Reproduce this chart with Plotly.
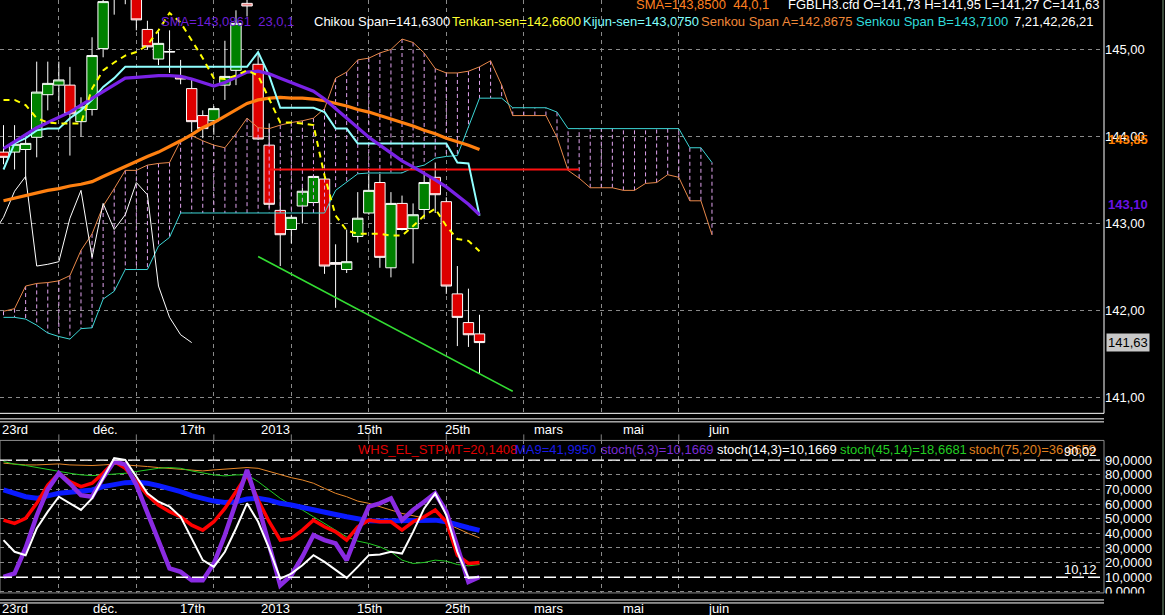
import plotly.graph_objects as go

# ---------------- data ----------------
bar_idx = list(range(44))          # daily bars shown
cloud_idx = list(range(65))        # cloud is projected 21 bars ahead

open_ = [143.82, 143.82, 143.85, 143.99, 144.48, 144.59, 144.59, 144.17, 144.31, 145.01,
         145.60, 145.85, 145.70, 145.23, 144.89, 144.97, 144.69, 144.55, 144.24, 144.18,
         144.59, 144.76, 145.53, 144.83, 143.90, 143.15, 142.93, 143.20, 143.24, 143.51,
         142.55, 142.47, 142.85, 143.12, 143.47, 142.49, 143.23, 142.94, 143.16, 143.53,
         143.25, 142.19, 141.86, 141.73]
high = [144.13, 144.13, 143.98, 144.86, 144.86, 144.86, 144.80, 144.45, 145.14, 145.70,
        145.95, 146.00, 145.85, 145.33, 145.20, 145.22, 144.88, 144.66, 144.30, 144.35,
        145.10, 145.45, 145.70, 144.97, 144.15, 143.41, 143.10, 143.41, 143.56, 143.52,
        142.76, 142.93, 143.36, 143.57, 143.57, 143.36, 143.32, 143.23, 143.60, 143.70,
        143.30, 142.51, 142.25, 141.95]
low = [143.68, 143.62, 143.50, 143.76, 144.30, 144.40, 143.78, 144.00, 144.24, 144.91,
       145.40, 145.52, 145.22, 145.00, 144.82, 144.73, 144.60, 144.05, 143.98, 144.02,
       144.42, 144.59, 145.38, 143.96, 143.18, 142.51, 142.77, 143.00, 143.20, 142.42,
       142.03, 142.43, 142.78, 143.10, 142.49, 142.38, 142.92, 142.54, 143.05, 143.12,
       142.19, 141.59, 141.58, 141.27]
close = [143.76, 143.91, 143.92, 144.51, 144.61, 144.65, 144.26, 144.34, 144.93, 145.55,
         145.85, 145.70, 145.34, 145.03, 145.07, 144.975, 144.66, 144.17, 144.09, 144.32,
         144.69, 145.30, 145.50, 143.97, 143.22, 142.87, 143.07, 143.37, 143.54, 142.51,
         142.53, 142.56, 143.06, 143.38, 142.61, 143.23, 142.93, 143.10, 143.47, 143.33,
         142.28, 141.92, 141.72, 141.63]

sma23 = [143.86, 143.94, 144.02, 144.10, 144.16, 144.22, 144.28, 144.36, 144.44, 144.52,
         144.60, 144.67, 144.68, 144.69, 144.70, 144.70, 144.69, 144.66, 144.62, 144.58,
         144.62, 144.68, 144.74, 144.75, 144.72, 144.67, 144.62, 144.57, 144.52, 144.43,
         144.32, 144.20, 144.09, 143.99, 143.90, 143.81, 143.72, 143.65, 143.58, 143.50,
         143.42, 143.32, 143.22, 143.10]
sma44 = [143.26, 143.29, 143.32, 143.35, 143.38, 143.40, 143.43, 143.45, 143.48, 143.54,
         143.60, 143.66, 143.72, 143.77, 143.82, 143.88, 143.95, 144.02, 144.10, 144.16,
         144.23, 144.30, 144.38, 144.42, 144.44, 144.45, 144.44, 144.44, 144.43, 144.41,
         144.38, 144.35, 144.31, 144.28, 144.24, 144.20, 144.16, 144.12, 144.07, 144.03,
         143.98, 143.94, 143.90, 143.85]
tenkan = [144.42, 144.42, 144.36, 144.21, 144.16, 144.15, 144.15, 144.15, 144.55, 144.76,
          144.85, 144.93, 144.97, 145.05, 145.22, 145.42, 145.31, 145.11, 144.90, 144.67,
          144.66, 144.70, 144.76, 144.70, 144.42, 144.16, 144.16, 144.15, 144.13, 143.55,
          143.09, 142.92, 142.88, 142.88, 142.88, 142.86, 142.86, 142.97, 143.09, 143.17,
          142.97, 142.82, 142.80, 142.68]
kijun = [143.62, 143.92, 143.98, 144.07, 144.09, 144.09, 144.21, 144.30, 144.42, 144.57,
         144.67, 144.80, 144.80, 144.80, 144.80, 144.80, 144.80, 144.80, 144.80, 144.80,
         144.80, 144.80, 144.80, 144.97, 144.70, 144.33, 144.33, 144.33, 144.33, 144.28,
         144.09, 144.09, 143.92, 143.92, 143.92, 143.92, 143.92, 143.92, 143.92, 143.92,
         143.92, 143.70, 143.69, 143.09]
senkou_a = [141.99, 142.02, 142.28, 142.31, 142.32, 142.34, 142.40, 142.69, 142.88, 143.20,
            143.40, 143.61, 143.61, 143.67, 143.69, 143.70, 143.95, 144.01, 143.95, 143.90,
            143.87, 144.03, 144.21, 144.10, 144.09, 144.13, 144.16, 144.18, 144.21, 144.32,
            144.67, 144.74, 144.88, 144.90, 144.96, 145.00, 145.12, 145.08, 144.96, 144.78,
            144.73, 144.73, 144.75, 144.80, 144.87, 144.59, 144.24, 144.24, 144.24, 144.24,
            143.99, 143.61, 143.52, 143.41, 143.41, 143.41, 143.38, 143.38, 143.46, 143.47,
            143.56, 143.53, 143.26, 143.26, 142.87]
senkou_b = [141.92, 141.92, 141.90, 141.83, 141.74, 141.70, 141.67, 141.79, 141.80, 142.13,
            142.22, 142.47, 142.47, 142.47, 142.74, 142.84, 143.12, 143.12, 143.12, 143.12,
            143.12, 143.12, 143.12, 143.12, 143.12, 143.12, 143.12, 143.12, 143.12, 143.12,
            143.38, 143.47, 143.57, 143.58, 143.58, 143.58, 143.58, 143.64, 143.67, 143.75,
            143.77, 143.78, 144.10, 144.44, 144.44, 144.44, 144.33, 144.33, 144.33, 144.33,
            144.28, 144.09, 144.09, 144.09, 144.09, 144.09, 144.09, 144.09, 144.09, 144.09,
            144.09, 144.09, 143.87, 143.87, 143.70]
chikou_shift = 26

hline_x = [24, 52]
hline_y = [143.62, 143.62]
trend_x = [23, 46]
trend_y = [142.62, 141.07]

stpmt = [49.0, 46.8, 50.2, 60.5, 73.0, 81.0, 75.3, 71.9, 74.2, 81.0,
         89.0, 84.4, 75.3, 66.2, 59.3, 54.8, 51.3, 45.6, 42.2, 47.9,
         57.0, 68.5, 79.9, 62.7, 47.9, 35.4, 36.5, 42.2, 49.0, 44.5,
         41.0, 35.4, 44.5, 49.0, 47.9, 47.9, 42.2, 47.9, 51.3, 55.9,
         47.9, 25.1, 19.4, 20.1]
ma9 = [69.6, 67.3, 65.0, 63.9, 65.7, 67.3, 68.0, 68.5, 69.6, 71.9,
       73.5, 74.6, 74.8, 74.2, 72.6, 70.7, 68.5, 65.7, 63.9, 62.0,
       61.1, 61.6, 63.4, 63.9, 62.7, 60.5, 59.3, 57.5, 55.9, 54.3,
       52.9, 51.3, 49.7, 48.6, 48.4, 48.4, 48.4, 48.4, 49.0, 49.0,
       47.9, 45.6, 43.8, 42.0]
stoch_5_3 = [10.3, 12.6, 30.0, 52.0, 70.0, 81.0, 74.0, 66.0, 65.0, 78.0,
             89.0, 87.0, 73.0, 53.6, 34.2, 16.0, 13.7, 8.0, 8.0, 19.4,
             38.8, 61.6, 83.3, 59.3, 32.0, 4.5, 11.4, 24.0, 38.8, 35.4,
             33.1, 21.7, 41.0, 58.2, 60.5, 63.9, 49.0, 55.9, 61.6, 67.3,
             54.8, 32.0, 6.8, 10.2]
stoch_14_3 = [35.4, 27.4, 25.0, 43.3, 54.8, 65.0, 60.5, 56.0, 63.9, 77.6,
              91.3, 90.1, 78.7, 67.3, 61.6, 58.2, 51.3, 36.5, 21.7, 17.1,
              27.4, 43.3, 60.5, 47.9, 29.6, 9.1, 12.5, 18.2, 25.1, 20.5,
              14.8, 9.6, 17.1, 25.1, 25.5, 27.4, 26.2, 41.0, 57.0, 67.3,
              52.5, 27.4, 9.6, 10.2]
stoch_45_14 = [89.0, 87.2, 86.3, 84.9, 83.3, 82.2, 81.0, 79.9, 79.4, 79.9,
               80.3, 81.0, 82.2, 83.3, 84.4, 84.9, 84.4, 82.6, 81.0, 79.9,
               79.2, 79.9, 79.9, 75.3, 69.6, 63.9, 59.3, 55.9, 51.3, 46.8,
               42.2, 37.6, 34.7, 33.1, 30.8, 27.4, 21.7, 19.4, 20.1, 21.7,
               21.0, 18.7, 17.8, 18.7]
stoch_75_20 = [87.9, 87.2, 86.7, 86.7, 87.2, 87.4, 86.7, 86.3, 86.3, 86.7,
               87.2, 86.7, 86.3, 85.6, 84.9, 84.4, 84.0, 83.3, 82.6, 83.3,
               83.8, 84.4, 84.9, 84.4, 82.2, 79.9, 78.0, 76.4, 74.2, 70.7,
               67.3, 65.0, 62.0, 60.5, 58.2, 55.9, 53.6, 52.0, 50.6, 49.0,
               46.8, 43.3, 39.9, 36.9]

price_ticks = [141, 142, 143, 144, 145]
price_ticktext = ["141,00", "142,00", "143,00", "144,00", "145,00"]
osc_ticks = [0, 10, 20, 30, 40, 50, 60, 70, 80, 90]
osc_ticktext = ["0,0000", "10,0000", "20,0000", "30,0000", "40,0000",
                "50,0000", "60,0000", "70,0000", "80,0000", "90,0000"]
osc_levels = [90, 10]
grid_idx = [5, 12, 19, 26, 33, 40, 47, 54, 61]
date_labels = ["23rd", "déc.", "17th", "2013", "15th", "25th", "mars", "mai", "juin"]
date_label_idx = [1.0, 9.2, 17.1, 24.6, 33.1, 41.0, 49.2, 56.9, 64.6]

# ---------------- layout geometry (reference pixels) ----------------
W, REF_H = 1165, 615
FIG_H = 624            # page height; the photo is squeezed back to 615
VS = FIG_H / REF_H
PLOT_R = 1104
TOP_END = 412
BOT_TOP, BOT_END = 439, 591
BAR_PX, BAR0_PX = 11.07, 3.5
PX_PER_PT, P145_PX = 86.7, 49.3
OSC_PX, OSC0_PX = 1.46, 590.0


def pxx(px):
    return px / PLOT_R


def pxy(py):
    return 1 - py / REF_H


x_range = [-BAR0_PX / BAR_PX, (PLOT_R - BAR0_PX) / BAR_PX]
y_range = [145 - (TOP_END - P145_PX) / PX_PER_PT, 145 + P145_PX / PX_PER_PT]
y2_range = [(OSC0_PX - BOT_END) / OSC_PX, (OSC0_PX - BOT_TOP) / OSC_PX]

FONT = "Liberation Sans, Arial, sans-serif"
GRID = "#8a8a8a"

fig = go.Figure()

# cloud hatching
hx, hy = [], []
for i in cloud_idx:
    hx += [i, i, None]
    hy += [senkou_a[i], senkou_b[i], None]
fig.add_trace(go.Scatter(x=hx, y=hy, mode="lines", connectgaps=False,
                         line=dict(color="#e2a4f0", width=1, dash="4px,3px")))
fig.add_trace(go.Scatter(x=cloud_idx, y=senkou_a, mode="lines",
                         line=dict(color="#e8884a", width=1)))
fig.add_trace(go.Scatter(x=cloud_idx, y=senkou_b, mode="lines",
                         line=dict(color="#3cd6d6", width=1)))
fig.add_trace(go.Scatter(x=[i - chikou_shift for i in bar_idx], y=close, mode="lines",
                         line=dict(color="white", width=1)))

fig.add_trace(go.Candlestick(
    x=bar_idx, open=open_, high=high, low=low, close=close,
    increasing=dict(fillcolor="#008000", line=dict(color="white", width=1)),
    decreasing=dict(fillcolor="#dd0000", line=dict(color="white", width=1)),
    whiskerwidth=0, hoverinfo="skip"))

fig.add_trace(go.Scatter(x=hline_x, y=hline_y, mode="lines",
                         line=dict(color="#ff1010", width=2)))
fig.add_trace(go.Scatter(x=trend_x, y=trend_y, mode="lines",
                         line=dict(color="#33dd33", width=1.6)))
fig.add_trace(go.Scatter(x=bar_idx, y=sma44, mode="lines",
                         line=dict(color="#ff8010", width=3.2)))
fig.add_trace(go.Scatter(x=bar_idx, y=kijun, mode="lines",
                         line=dict(color="#90ffff", width=2)))
fig.add_trace(go.Scatter(x=bar_idx, y=sma23, mode="lines",
                         line=dict(color="#7a22e6", width=3.2)))
fig.add_trace(go.Scatter(x=bar_idx, y=tenkan, mode="lines",
                         line=dict(color="#ffff00", width=2, dash="6px,5px")))

# oscillator panel
osc = [
    (stoch_75_20, "#e8882a", 1),
    (stoch_45_14, "#22cc22", 1),
    (ma9, "#0a1aff", 5),
    (stpmt, "#ff0000", 3.5),
    (stoch_5_3, "#8a2be2", 4.5),
    (stoch_14_3, "#ffffff", 2),
]
for vals, col, wd in osc:
    fig.add_trace(go.Scatter(x=bar_idx, y=vals, mode="lines", xaxis="x2", yaxis="y2",
                             line=dict(color=col, width=wd)))

axis_common = dict(range=x_range, tickvals=grid_idx, showticklabels=False, ticks="",
                   showgrid=True, gridcolor=GRID, griddash="4px,4px", gridwidth=1,
                   zeroline=False, showline=False, fixedrange=True)

shapes = []
wline = dict(color="white", width=1)
shapes.append(dict(type="line", xref="paper", yref="paper", x0=1, x1=1,
                   y0=pxy(TOP_END), y1=1, line=wline))
for py in (TOP_END, 417.5, 420.5, 598, 601):
    shapes.append(dict(type="line", xref="paper", yref="paper", x0=0, x1=1,
                       y0=pxy(py), y1=pxy(py), line=wline))
for g in grid_idx:
    shapes.append(dict(type="line", xref="x", yref="paper", x0=g, x1=g,
                       y0=pxy(439), y1=pxy(433), line=dict(color="#808080", width=1)))
shapes.append(dict(type="rect", xref="paper", yref="paper", x0=0, x1=1,
                   y0=pxy(BOT_END), y1=pxy(BOT_TOP), line=dict(color="#8c8c8c", width=1)))
for lv in osc_levels:
    shapes.append(dict(type="line", xref="paper", yref="y2", x0=0, x1=1, y0=lv, y1=lv,
                       line=dict(color="white", width=1.3, dash="12px,4px")))
# the lowest oscillator label is clipped by the panel edge in the original
shapes.append(dict(type="rect", xref="paper", yref="paper", x0=1.001, x1=pxx(1160),
                   y0=pxy(597.5), y1=pxy(591.5), fillcolor="black",
                   line=dict(width=0), layer="above"))
shapes.append(dict(type="line", xref="paper", yref="paper", x0=pxx(1163), x1=pxx(1163),
                   y0=0, y1=1, line=dict(color="#3a4a3a", width=2)))

ann = []


def txt(text, px, py, color, size=13, anchor="left", **kw):
    ann.append(dict(text=text, xref="paper", yref="paper", x=pxx(px), y=pxy(py),
                    xanchor=anchor, yanchor="middle", showarrow=False,
                    font=dict(family=FONT, size=size, color=color), **kw))


# header of price panel
txt("SMA=143,8500  44,0,1", 634, 4, "#ff8020")
txt("FGBLH3.cfd O=141,73 H=141,95 L=141,27 C=141,63", 786, 4, "white")
txt("SMA=143,0861  23,0,1", 159, 21, "#6e1fd8")
txt("Chikou Span=141,6300", 312, 21, "white")
txt("Tenkan-sen=142,6600", 450, 21, "#ffff30")
txt("Kijun-sen=143,0750", 581, 21, "#80ffff")
txt("Senkou Span A=142,8675", 699, 21, "#f08838")
txt("Senkou Span B=143,7100", 854, 21, "#30dcdc")
txt("7,21,42,26,21", 1012, 21, "white")

# header of oscillator panel
txt("WHS_EL_STPMT=20,1408", 356, 448, "#e00000")
txt("MA9=41,9950", 513, 448, "#1a1ae6")
txt("stoch(5,3)=10,1669", 599, 448, "#7a2bd6")
txt("stoch(14,3)=10,1669", 715, 448, "white")
txt("stoch(45,14)=18,6681", 838, 448, "#22cc22")
txt("stoch(75,20)=36,8659", 967, 448, "#e0801e")
txt("90,02", 1062, 450, "white")
txt("10,12", 1062, 568, "white")

# last-value labels on the price axis
ann.append(dict(text="<b>143,85</b>", xref="paper", yref="y", x=1, y=sma44[-1],
                xanchor="left", yanchor="middle", xshift=2, yshift=10 * VS, showarrow=False,
                font=dict(family=FONT, size=13, color="#ff8000")))
ann.append(dict(text="<b>143,10</b>", xref="paper", yref="y", x=1, y=sma23[-1],
                xanchor="left", yanchor="middle", xshift=2, yshift=10 * VS, showarrow=False,
                font=dict(family=FONT, size=13, color="#6a12e6")))
ann.append(dict(text="141,63", xref="paper", yref="y", x=1, y=close[-1],
                xanchor="left", yanchor="middle", xshift=2, showarrow=False,
                bgcolor="#c8c8c8", borderpad=1,
                font=dict(family=FONT, size=13, color="black")))

# date labels under both panels
for lab, xi in zip(date_labels, date_label_idx):
    for py in (428, 607):
        ann.append(dict(text=lab, xref="x", yref="paper", x=xi, y=pxy(py),
                        xanchor="center", yanchor="middle", showarrow=False,
                        font=dict(family=FONT, size=13, color="white")))

fig.update_layout(
    width=W, height=FIG_H, margin=dict(l=0, r=W - PLOT_R, t=0, b=0, pad=0),
    paper_bgcolor="black", plot_bgcolor="black", showlegend=False, hovermode=False,
    font=dict(family=FONT, size=13, color="white"),
    boxgap=0.06, boxgroupgap=0,
    xaxis=dict(domain=[0, 1], anchor="y", rangeslider=dict(visible=False), **axis_common),
    xaxis2=dict(domain=[0, 1], anchor="y2", **axis_common),
    yaxis=dict(domain=[pxy(TOP_END), 1], range=y_range, side="right", anchor="x",
               tickvals=price_ticks, ticktext=price_ticktext, ticks="",
               showgrid=True, gridcolor=GRID, griddash="4px,4px", gridwidth=1,
               zeroline=False, showline=False, fixedrange=True,
               tickfont=dict(family=FONT, size=13, color="white")),
    yaxis2=dict(domain=[pxy(BOT_END), pxy(BOT_TOP)], range=y2_range, side="right",
                anchor="x2", tickvals=osc_ticks, ticktext=osc_ticktext, ticks="",
                showgrid=True, gridcolor=GRID, griddash="4px,4px", gridwidth=1,
                zeroline=False, showline=False, fixedrange=True,
                tickfont=dict(family=FONT, size=13, color="white")),
    shapes=shapes, annotations=ann,
)

fig.write_html(
    "out.html",
    config={"displayModeBar": False, "staticPlot": True},
    post_script="document.body.style.margin='0px';"
                "document.body.style.overflow='hidden';"
                "document.body.style.background='black';",
)
